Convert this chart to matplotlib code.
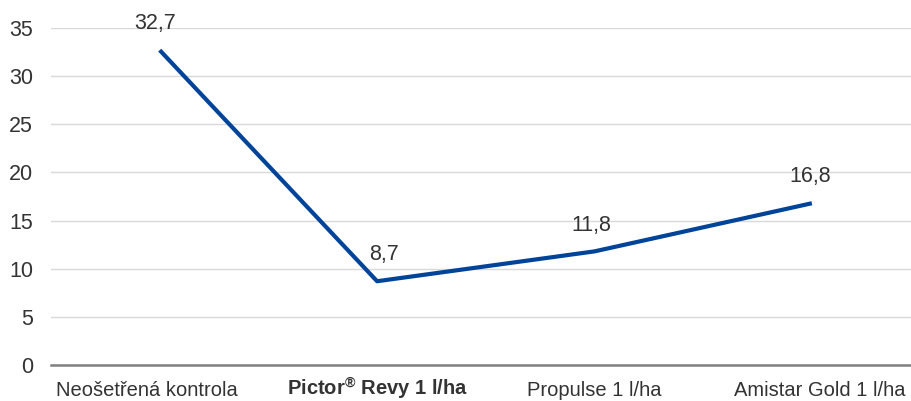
import matplotlib.pyplot as plt

plt.rcParams['font.family'] = ['Liberation Sans', 'DejaVu Sans']
plt.rcParams['mathtext.fontset'] = 'custom'
plt.rcParams['mathtext.rm'] = 'Liberation Sans'
plt.rcParams['mathtext.bf'] = 'Liberation Sans:bold'

categories = ['Neošetřená kontrola', r'Pictor$^{\mathbf{®}}$ Revy 1 l/ha', 'Propulse 1 l/ha', 'Amistar Gold 1 l/ha']
values = [32.7, 8.7, 11.8, 16.8]
value_labels = ['32,7', '8,7', '11,8', '16,8']
yticks = [0, 5, 10, 15, 20, 25, 30, 35]
# horizontal nudges (points) of the labels, as in the original
label_shift = [-9, 0, 0, 6]
value_shift = [-3, 5, -2, -1]

fig = plt.figure(figsize=(9.11, 4.01), dpi=100)
ax = fig.add_axes([51 / 911, 36 / 401, 860 / 911, 337 / 401])

x = list(range(len(categories)))
ax.plot(x, values, color='#00449a', linewidth=3, solid_capstyle='butt', zorder=3)

for xi, v, lab, dx in zip(x, values, value_labels, value_shift):
    ax.annotate(lab, (xi, v), xytext=(dx, 15), textcoords='offset points',
                ha='center', va='baseline', fontsize=15.5, color='#333333')

for xi, cat, dx in zip(x, categories, label_shift):
    ax.annotate(cat, (xi, 0), xycoords=('data', 'axes fraction'),
                xytext=(dx, -22.3), textcoords='offset points',
                ha='center', va='baseline', fontsize=14.5, color='#333333',
                fontweight='bold' if xi == 1 else 'normal', annotation_clip=False)

ax.set_ylim(0, 35)
ax.set_xlim(-0.5, 3.456)
ax.set_yticks(yticks)
ax.set_yticklabels([str(t) for t in yticks])
ax.set_xticks(x)
ax.set_xticklabels([])

ax.grid(axis='y', color='#d9d9d9', linewidth=1)
ax.set_axisbelow(True)
for s in ['top', 'right', 'left']:
    ax.spines[s].set_visible(False)
ax.spines['bottom'].set_color('#808080')
ax.spines['bottom'].set_linewidth(1.8)
ax.tick_params(axis='both', length=0, labelsize=15.5, colors='#333333')
ax.tick_params(axis='y', pad=13)

fig.savefig('out.png', dpi=100)
